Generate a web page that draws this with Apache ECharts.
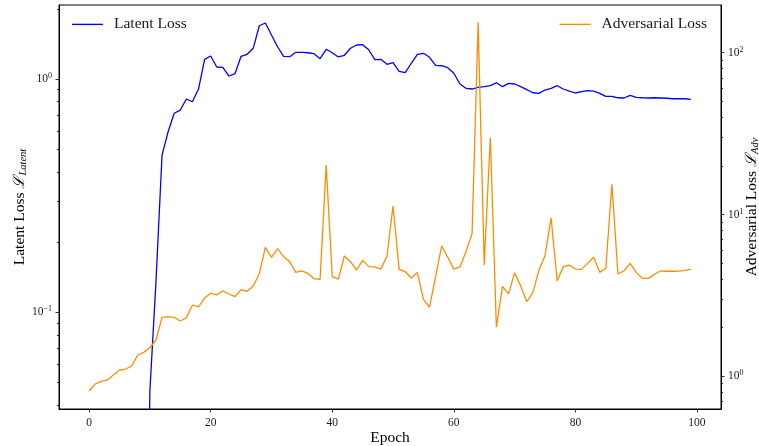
<!DOCTYPE html>
<html>
<head>
<meta charset="utf-8">
<script src="https://cdn.jsdelivr.net/npm/echarts@6/dist/echarts.min.js"></script>
<style>
  html, body { margin: 0; padding: 0; background: #ffffff; }
  #chart { width: 759px; height: 446px; }
</style>
</head>
<body>
<div id="chart"></div>
<script>
// Training history: one value per epoch (0..99)
const epochs = Array.from({ length: 100 }, (_, i) => i);

// Latent loss is ~0 during the first ten warm-up epochs (off the bottom of the log axis)
const latentLoss = [
  0.001, 0.001, 0.001, 0.001, 0.001, 0.001, 0.001, 0.001, 0.001, 0.001,
  0.046, 0.135, 0.472, 0.594, 0.713, 0.736, 0.821, 0.799, 0.906, 1.214,
  1.255, 1.126, 1.122, 1.030, 1.054, 1.251, 1.276, 1.354, 1.692, 1.738,
  1.544, 1.375, 1.251, 1.246, 1.301, 1.301, 1.296, 1.284, 1.222, 1.341,
  1.296, 1.243, 1.264, 1.354, 1.399, 1.403, 1.335, 1.210, 1.214, 1.156,
  1.175, 1.079, 1.064, 1.168, 1.276, 1.289, 1.239, 1.145, 1.140, 1.118,
  1.058, 0.952, 0.912, 0.906, 0.921, 0.927, 0.936, 0.964, 0.927, 0.958,
  0.952, 0.927, 0.900, 0.873, 0.868, 0.897, 0.912, 0.936, 0.906, 0.888,
  0.871, 0.882, 0.891, 0.888, 0.868, 0.843, 0.843, 0.831, 0.829, 0.851,
  0.835, 0.831, 0.829, 0.831, 0.829, 0.827, 0.823, 0.823, 0.823, 0.818
];

const adversarialLoss = [
  0.811, 0.896, 0.931, 0.949, 1.019, 1.094, 1.109, 1.158, 1.354, 1.406,
  1.502, 1.676, 2.316, 2.336, 2.316, 2.197, 2.302, 2.759, 2.682, 3.047,
  3.258, 3.181, 3.381, 3.226, 3.105, 3.429, 3.352, 3.615, 4.306, 6.27,
  5.44, 6.15, 5.49, 5.11, 4.39, 4.49, 4.33, 4.01, 3.98, 20.2,
  4.13, 3.99, 5.54, 5.11, 4.54, 5.21, 4.76, 4.74, 4.60, 5.54,
  11.29, 4.58, 4.43, 4.05, 4.39, 2.99, 2.68, 4.13, 6.39, 5.44,
  4.60, 4.74, 5.89, 7.65, 154, 4.87, 29.8, 2.017, 3.60, 3.23,
  4.37, 3.61, 2.89, 3.29, 4.54, 5.57, 9.55, 3.88, 4.76, 4.87,
  4.60, 4.58, 4.99, 5.44, 4.39, 4.65, 15.4, 4.29, 4.49, 4.99,
  4.39, 4.03, 4.03, 4.27, 4.49, 4.46, 4.46, 4.47, 4.52, 4.60
];

// Tick positions
const xTicks = [0, 20, 40, 60, 80, 100];
const latentMajor = [0.1, 1];
const latentMinor = [0.04, 0.05, 0.06, 0.07, 0.08, 0.09, 0.2, 0.3, 0.4, 0.5, 0.6, 0.7, 0.8, 0.9, 2];
const advMajor = [1, 10, 100];
const advMinor = [0.7, 0.8, 0.9, 2, 3, 4, 5, 6, 7, 8, 9, 20, 30, 40, 50, 60, 70, 80, 90];

const serif = "'Liberation Serif', 'DejaVu Serif', serif";
const ink = '#1a1a1a';

const latentRange = { min: 0.0385, max: 2.076 };
const advRange = { min: 0.628, max: 197.2 };

function powLabel(v) {
  const e = Math.round(Math.log10(v));
  return '10{sup|' + String(e).replace('-', '\u2212') + '}';
}

const tickLabelStyle = {
  fontFamily: serif,
  fontSize: 11.5,
  color: ink,
  formatter: powLabel,
  rich: {
    sup: { fontFamily: serif, fontSize: 8, color: ink, verticalAlign: 'top', padding: [0, 0, 6, 0] }
  }
};

const nameRich = {
  l: { fontFamily: "'DejaVu Serif', serif", fontSize: 15.5, fontStyle: 'italic', color: '#000' },
  sub: { fontFamily: serif, fontSize: 10.5, fontStyle: 'italic', color: '#000', padding: [7, 0, 0, 0] }
};

function minorAxis(range, position, values) {
  return {
    type: 'log', logBase: 10, min: range.min, max: range.max, position: position,
    axisLine: { show: false, onZero: false },
    splitLine: { show: false },
    axisTick: { show: true, length: 2, customValues: values, lineStyle: { color: '#000', width: 0.8 } },
    axisLabel: { show: false }
  };
}

const legendText = { fontFamily: serif, fontSize: 15.5, color: ink, padding: [0, 0, 0, 6] };

const chart = echarts.init(document.getElementById('chart'), null, { renderer: 'canvas' });

chart.setOption({
  animation: false,
  backgroundColor: '#ffffff',
  grid: {
    left: 59, right: 38, top: 5, bottom: 37,
    outerBoundsMode: 'none', containLabel: false,
    show: true, borderColor: '#000', borderWidth: 1, backgroundColor: 'transparent'
  },
  legend: [
    {
      data: ['Latent Loss'], icon: 'rect', padding: 0,
      left: 72, top: 16.4,
      itemWidth: 31, itemHeight: 1.4,
      textStyle: legendText
    },
    {
      data: ['Adversarial Loss'], icon: 'rect', padding: 0,
      right: 52, top: 16.4,
      itemWidth: 31, itemHeight: 1.4,
      textStyle: legendText
    }
  ],
  xAxis: {
    type: 'value', min: -4.95, max: 103.95,
    splitLine: { show: false },
    axisLine: { show: true, onZero: false, lineStyle: { color: '#000', width: 1 } },
    axisTick: { show: true, length: 3.5, customValues: xTicks, lineStyle: { color: '#000', width: 0.8 } },
    axisLabel: { customValues: xTicks, fontFamily: serif, fontSize: 11.5, color: ink, margin: 8 },
    name: 'Epoch', nameLocation: 'middle', nameGap: 21, nameMoveOverlap: false,
    nameTextStyle: { fontFamily: serif, fontSize: 15.5, color: '#000' }
  },
  yAxis: [
    {
      type: 'log', logBase: 10, min: latentRange.min, max: latentRange.max, position: 'left',
      splitLine: { show: false },
      axisLine: { show: true, onZero: false, lineStyle: { color: '#000', width: 1 } },
      axisTick: { show: true, length: 3.5, customValues: latentMajor, lineStyle: { color: '#000', width: 0.8 } },
      axisLabel: Object.assign({ customValues: latentMajor, margin: 7 }, tickLabelStyle),
      name: 'Latent Loss {l|\u2112}{sub|Latent}', nameLocation: 'middle', nameRotate: 90,
      nameGap: 30, nameMoveOverlap: false,
      nameTextStyle: { fontFamily: serif, fontSize: 15.5, color: '#000', rich: nameRich }
    },
    {
      type: 'log', logBase: 10, min: advRange.min, max: advRange.max, position: 'right',
      splitLine: { show: false },
      axisLine: { show: true, onZero: false, lineStyle: { color: '#000', width: 1 } },
      axisTick: { show: true, length: 3.5, customValues: advMajor, lineStyle: { color: '#000', width: 0.8 } },
      axisLabel: Object.assign({ customValues: advMajor, margin: 7 }, tickLabelStyle),
      name: 'Adversarial Loss {l|\u2112}{sub|Adv}', nameLocation: 'middle', nameRotate: 90,
      nameGap: 22, nameMoveOverlap: false,
      nameTextStyle: { fontFamily: serif, fontSize: 15.5, color: '#000', rich: nameRich }
    },
    minorAxis(latentRange, 'left', latentMinor),
    minorAxis(advRange, 'right', advMinor)
  ],
  series: [
    {
      name: 'Latent Loss', type: 'line', yAxisIndex: 0,
      data: epochs.map((e, i) => [e, latentLoss[i]]),
      symbol: 'none', clip: true,
      lineStyle: { color: '#0000ff', width: 1.3 },
      itemStyle: { color: '#0000ff' }
    },
    {
      name: 'Adversarial Loss', type: 'line', yAxisIndex: 1,
      data: epochs.map((e, i) => [e, adversarialLoss[i]]),
      symbol: 'none', clip: true,
      lineStyle: { color: '#ff8c00', width: 1.3 },
      itemStyle: { color: '#ff8c00' }
    }
  ]
});
</script>
</body>
</html>
